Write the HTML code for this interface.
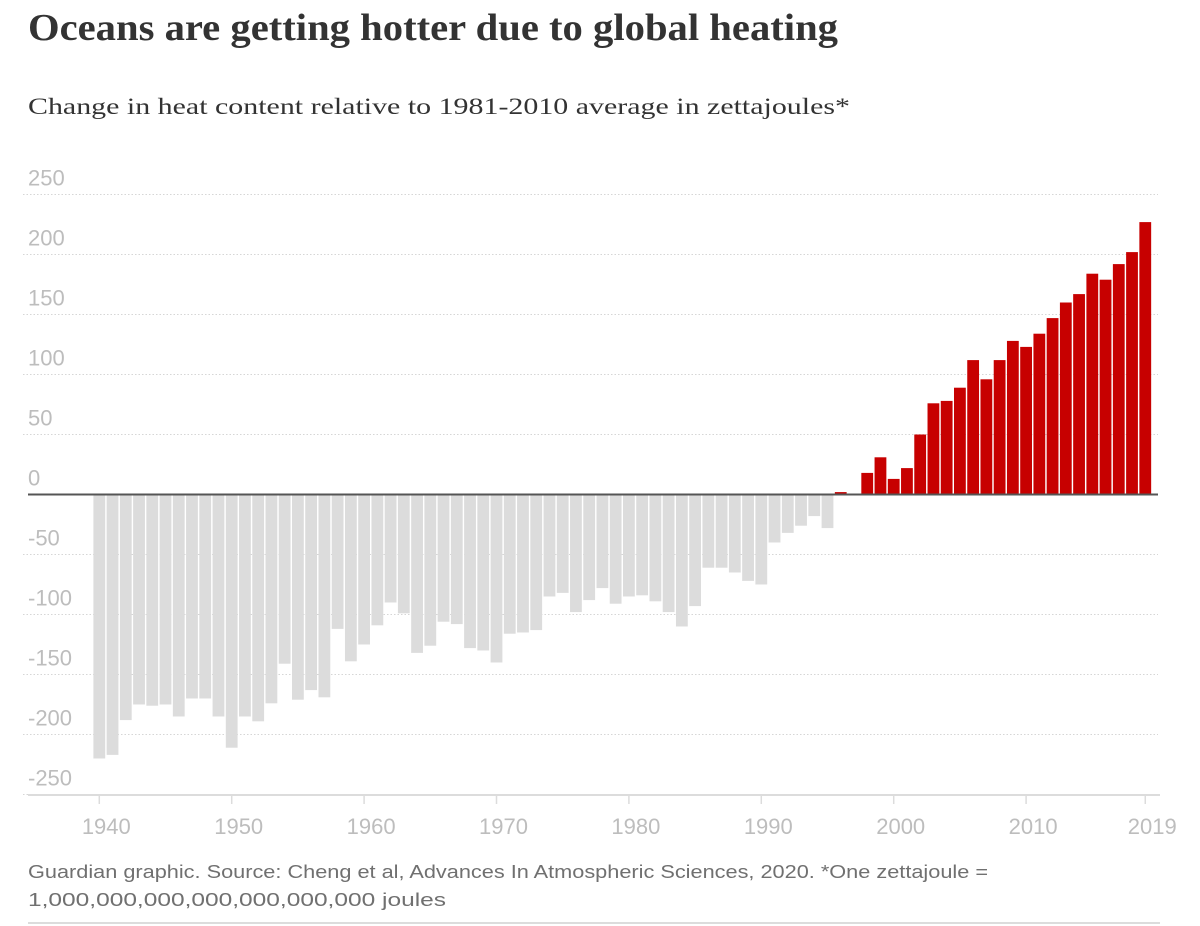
<!DOCTYPE html>
<html><head><meta charset="utf-8"><style>
html,body{margin:0;padding:0;background:#fff;}
svg{display:block;}
</style></head><body>
<svg id="chart" width="1200" height="926" xmlns="http://www.w3.org/2000/svg">
<text x="28" y="40" font-family="Liberation Serif, serif" font-weight="bold" font-size="38" fill="#333" textLength="810" lengthAdjust="spacingAndGlyphs">Oceans are getting hotter due to global heating</text>
<text x="28" y="114" font-family="Liberation Serif, serif" font-size="23" fill="#333" textLength="822" lengthAdjust="spacingAndGlyphs">Change in heat content relative to 1981-2010 average in zettajoules*</text>
<g id="grid"></g>
<g id="bars"></g>
<g id="xaxis"></g>
<text x="28" y="878" font-family="Liberation Sans, sans-serif" font-size="18" fill="#707070" textLength="960" lengthAdjust="spacingAndGlyphs">Guardian graphic. Source: Cheng et al, Advances In Atmospheric Sciences, 2020. *One zettajoule =</text>
<text x="28" y="906" font-family="Liberation Sans, sans-serif" font-size="18" fill="#707070" textLength="418" lengthAdjust="spacingAndGlyphs">1,000,000,000,000,000,000,000 joules</text>
<rect x="28" y="922" width="1132" height="2" fill="#dcdcdc"/>
</svg>
<script>
const startYear = 1940;
const values = [
-220,-217,-188,-175,-176,-175,-185,-170,-170,-185,
-211,-185,-189,-174,-141,-171,-163,-169,-112,-139,
-125,-109,-90,-99,-132,-126,-106,-108,-128,-130,
-140,-116,-115,-113,-85,-82,-98,-88,-78,-91,
-85,-84,-89,-98,-110,-93,-61,-61,-65,-72,
-75,-40,-32,-26,-18,-28,2,0,18,31,
13,22,50,76,78,89,112,96,112,128,
123,134,147,160,167,184,179,192,202,227];
const yTicks = [250,200,150,100,50,0,-50,-100,-150,-200,-250];
const xTicks = [1940,1950,1960,1970,1980,1990,2000,2010,2019];

const NS='http://www.w3.org/2000/svg';
const y = v => 494.5 - v*1.2;
const x = yr => 99.3 + (yr-startYear)*13.24;
const bw = 11.8;
function mk(tag, attrs, parent){const e=document.createElementNS(NS,tag);for(const k in attrs)e.setAttribute(k,attrs[k]);parent.appendChild(e);return e;}
const grid=document.getElementById('grid'), bars=document.getElementById('bars'), xa=document.getElementById('xaxis');
yTicks.forEach(t=>{
  if(t!==0){const l=mk('line',{x1:23,x2:1158,y1:y(t),y2:y(t),stroke:'#d6d6d6','stroke-width':1,'stroke-dasharray':'1.5,2'},grid);
  
  }
  const tx=mk('text',{x:28,y:y(t)-9,'font-family':'Liberation Sans, sans-serif','font-size':22,fill:'#bdbdbd'},grid);
  tx.textContent=t;
  
  
});
values.forEach((v,i)=>{
  const yr=startYear+i;
  const top=v>=0?y(v):y(0), h=Math.abs(y(v)-y(0));
  const r=mk('rect',{x:x(yr)-bw/2,y:top,width:bw,height:h,fill:v>=0?'#c70000':'#dcdcdc'},bars);
  
  
});
const zl=mk('line',{x1:28,x2:1158,y1:y(0),y2:y(0),stroke:'#555','stroke-width':2},bars);


const al=mk('line',{x1:28,x2:1160,y1:795,y2:795,stroke:'#dcdcdc','stroke-width':2},xa);


xTicks.forEach(t=>{
  const tk=mk('line',{x1:x(t),x2:x(t),y1:795,y2:804,stroke:'#dcdcdc','stroke-width':1.5},xa);
  
  
  const tx=mk('text',{x:x(t)+7,y:834,'text-anchor':'middle','font-family':'Liberation Sans, sans-serif','font-size':22,fill:'#bdbdbd'},xa);
  tx.textContent=t;
  
  
});
</script>
</body></html>
